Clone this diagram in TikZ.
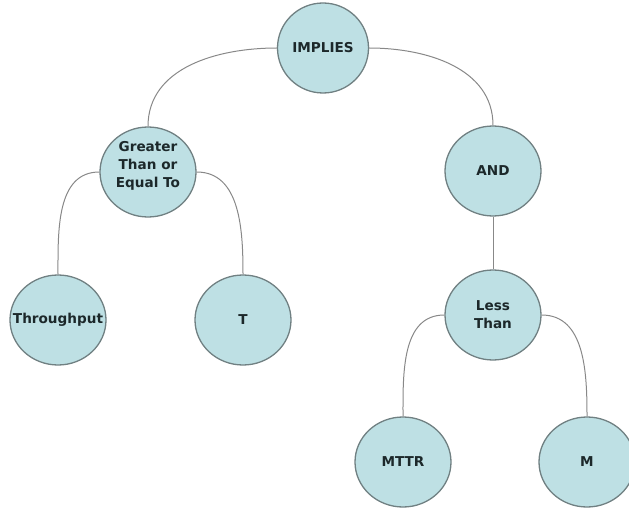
\documentclass[tikz,border=0pt]{standalone}
\usepackage{fontspec}
\setmainfont{DejaVu Sans}
\usetikzlibrary{shapes.geometric}
\definecolor{nodefill}{RGB}{190,224,228}
\definecolor{nodeedge}{RGB}{112,128,130}
\definecolor{linkcol}{RGB}{136,136,136}
\definecolor{textcol}{RGB}{28,40,42}
\tikzset{
  treenode/.style={ellipse, draw=nodeedge, line width=1.3pt, fill=nodefill,
    minimum width=96pt, minimum height=90pt, inner sep=0pt, align=center,
    text=textcol, font=\fontsize{13.6}{18}\selectfont\bfseries},
  link/.style={draw=linkcol, line width=1pt}
}
\begin{document}
\begin{tikzpicture}[x=1pt,y=-1pt]
\useasboundingbox (0,0) rectangle (629,508);
\node[treenode, minimum width=91pt] (impl) at (323,48) {IMPLIES};
\node[treenode] (gte) at (148,172) {\raisebox{3pt}[0pt][0pt]{\begin{tabular}{@{}c@{}}Greater\\Than or\\Equal To\end{tabular}}};
\node[treenode] (and) at (493,171) {AND};
\node[treenode] (thr) at (58,320) {\makebox[0pt]{Throughput}};
\node[treenode] (t) at (243,320) {T};
\node[treenode] (lt) at (493,315) {Less\\Than};
\node[treenode] (mttr) at (403,462) {MTTR};
\node[treenode] (m) at (587,462) {M};
\draw[link] (impl.west) to[out=180,in=90] (gte.north);
\draw[link] (impl.east) to[out=0,in=90] (and.north);
\draw[link] (and.south) -- (lt.north);
\draw[link] (gte.west) to[out=180,in=90] (thr.north);
\draw[link] (gte.east) to[out=0,in=90] (t.north);
\draw[link] (lt.west) to[out=180,in=90] (mttr.north);
\draw[link] (lt.east) to[out=0,in=90] (m.north);
\end{tikzpicture}
\end{document}
